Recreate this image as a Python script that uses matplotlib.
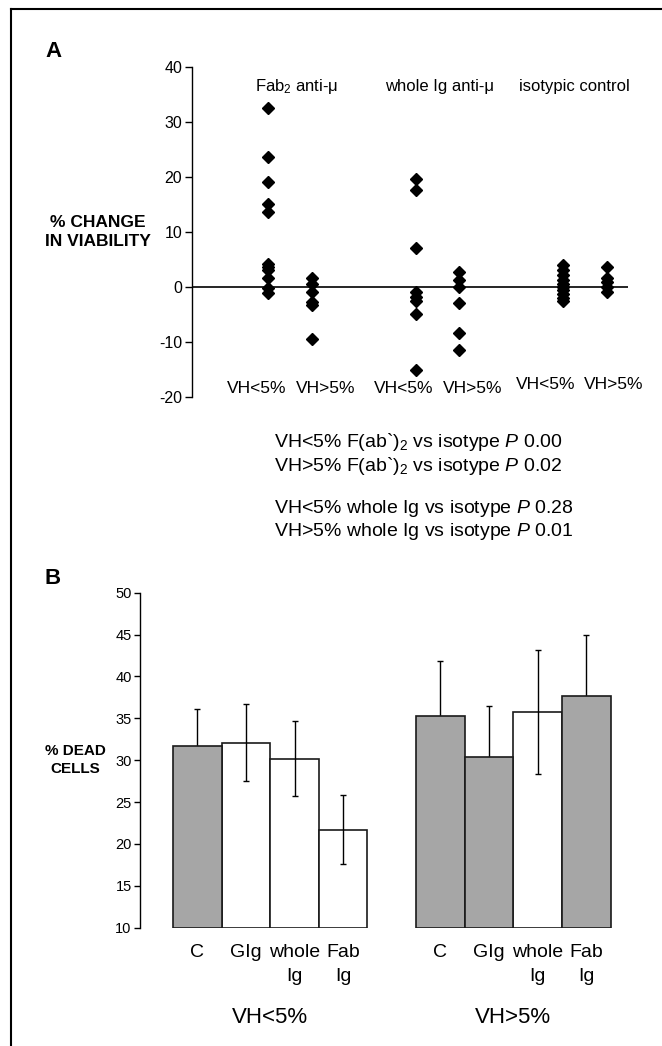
import matplotlib
matplotlib.use('Agg')
import matplotlib.pyplot as plt
from matplotlib.lines import Line2D
import numpy as np

plt.rcParams['font.family'] = ['Liberation Sans', 'DejaVu Sans']
plt.rcParams['mathtext.fontset'] = 'custom'
plt.rcParams['mathtext.rm'] = 'Liberation Sans'
plt.rcParams['mathtext.it'] = 'Liberation Sans:italic'
plt.rcParams['mathtext.bf'] = 'Liberation Sans:bold'

# ---------------- Panel A data ----------------
groups_a = [r"Fab$_2$ anti-μ", "whole Ig anti-μ", "isotypic control"]
subgroups_a = ["VH<5%", "VH>5%"]
fab_lo = [32.5, 23.5, 19.0, 15.0, 13.5, 4.2, 3.5, 3.0, 1.5, -0.3, -1.2]
fab_hi = [1.6, 0.5, -0.9, -2.8, -3.4, -9.5]
whole_lo = [19.6, 17.5, 7.0, -1.0, -1.8, -2.6, -5.0, -15.2]
whole_hi = [2.7, 1.2, 0.0, -2.9, -8.5, -11.5]
iso_lo = [4.0, 3.0, 2.2, 1.2, 0.5, 0.0, -0.6, -1.3, -2.0, -2.6]
iso_hi = [3.5, 1.5, 0.9, 0.0, -1.0]
series_a = [fab_lo, fab_hi, whole_lo, whole_hi, iso_lo, iso_hi]
yticks_a = [-20, -10, 0, 10, 20, 30, 40]

stats_lines = [
    r"VH<5% F(ab`)$_2$ vs isotype $\it{P}$ 0.00",
    r"VH>5% F(ab`)$_2$ vs isotype $\it{P}$ 0.02",
    r"VH<5% whole Ig vs isotype $\it{P}$ 0.28",
    r"VH>5% whole Ig vs isotype $\it{P}$ 0.01",
]

# ---------------- Panel B data ----------------
categories_b = ["C", "GIg", "whole\nIg", "Fab\nIg"]
groups_b = ["VH<5%", "VH>5%"]
means_b = [[31.7, 32.1, 30.2, 21.7],
           [35.3, 30.4, 35.8, 37.7]]
errs_b = [[4.4, 4.6, 4.5, 4.1],
          [6.6, 6.1, 7.4, 7.3]]
shaded_b = [[True, False, False, False],
            [True, True, False, True]]
yticks_b = [10, 15, 20, 25, 30, 35, 40, 45, 50]

# ---------------- Layout ----------------
W, H = 662, 1046
fig = plt.figure(figsize=(W / 100, H / 100), dpi=100)
fx = lambda px: px / W
fy = lambda py: 1 - py / H

GRAY = '#a6a6a6'

# Panel A axes
axA = fig.add_axes([fx(192), fy(396.7), (628 - 192) / W, (396.7 - 66.7) / H])
axA.set_xlim(0, 10)
axA.set_ylim(-20, 40)
xpos_a = [1.74, 2.75, 5.13, 6.13, 8.51, 9.51]
for xp, vals in zip(xpos_a, series_a):
    axA.plot([xp] * len(vals), vals, linestyle='none', marker='D', ms=5.8,
             color='black', clip_on=False, zorder=3)
axA.axhline(0, color='black', lw=1.2, zorder=2)
for s in ['top', 'right', 'bottom']:
    axA.spines[s].set_visible(False)
axA.spines['left'].set_linewidth(1.0)
axA.set_xticks([])
axA.set_yticks(yticks_a)
axA.set_yticklabels([str(t) for t in yticks_a])
axA.tick_params(axis='y', length=5, width=1, labelsize=11.5, pad=2)
axA.patch.set_visible(False)

title_x = [2.39, 5.67, 8.76]
for xt, g in zip(title_x, groups_a):
    axA.text(xt, 35.6, g, ha='center', va='baseline', fontsize=12)
sub_x = [1.48, 3.07, 4.86, 6.44, 8.12, 9.66]
sub_y = [-19.33, -19.33, -19.33, -19.33, -18.65, -18.65]
for i, (xs, ys) in enumerate(zip(sub_x, sub_y)):
    axA.text(xs, ys, subgroups_a[i % 2], ha='center', va='baseline', fontsize=12.5)

fig.text(fx(45), fy(51.7), 'A', fontsize=16, fontweight='bold', ha='left', va='center')
fig.text(fx(98), fy(232), '% CHANGE\nIN VIABILITY', fontsize=12.5, fontweight='bold',
         ha='center', va='center', linespacing=1.3)

for yb, line in zip([447.3, 470.7, 512.7, 535.7], stats_lines):
    fig.text(fx(274), fy(yb), line, fontsize=14, ha='left', va='baseline')

# Panel B axes
axB = fig.add_axes([fx(140), fy(927.7), (615.4 - 140) / W, (927.7 - 592.7) / H])
axB.set_xlim(-1.18, 8.6)
axB.set_ylim(10, 50)
base = 10
for g, (means, errs, shaded) in enumerate(zip(means_b, errs_b, shaded_b)):
    xs = np.arange(len(means)) + 5 * g
    for x, m, e, sh in zip(xs, means, errs, shaded):
        axB.bar(x, m - base, bottom=base, width=1.0, color=GRAY if sh else 'white',
                edgecolor='#1a1a1a', linewidth=1.2, zorder=3 if sh else 1)
        axB.errorbar(x, m, yerr=e, fmt='none', ecolor='black', elinewidth=1.0,
                     capsize=2.5, capthick=1.0, zorder=2)
    for x, cat in zip(xs, categories_b):
        parts = cat.split('\n')
        axB.text(x, 6.54, parts[0], ha='center', va='baseline', fontsize=14)
        if len(parts) > 1:
            axB.text(x, 3.67, parts[1], ha='center', va='baseline', fontsize=14)
    axB.text(xs.mean(), -1.38, groups_b[g], ha='center', va='baseline', fontsize=16)

for s in ['top', 'right', 'bottom']:
    axB.spines[s].set_visible(False)
axB.spines['left'].set_linewidth(1.0)
axB.set_xticks([])
axB.set_yticks(yticks_b)
axB.set_yticklabels([str(t) for t in yticks_b])
axB.tick_params(axis='y', length=4, width=1, labelsize=10.5, pad=2)
axB.patch.set_visible(False)

fig.text(fx(45), fy(578), 'B', fontsize=16, fontweight='bold', ha='left', va='center')
fig.text(fx(75), fy(760), '% DEAD\nCELLS', fontsize=11, fontweight='bold',
         ha='center', va='center', linespacing=1.35)

# Border (top and left)
fig.add_artist(Line2D([fx(11), 1.0], [fy(9), fy(9)], color='black', lw=1.5,
                      transform=fig.transFigure))
fig.add_artist(Line2D([fx(11), fx(11)], [fy(9), 0.0], color='black', lw=1.5,
                      transform=fig.transFigure))

fig.savefig('out.png', dpi=100)
